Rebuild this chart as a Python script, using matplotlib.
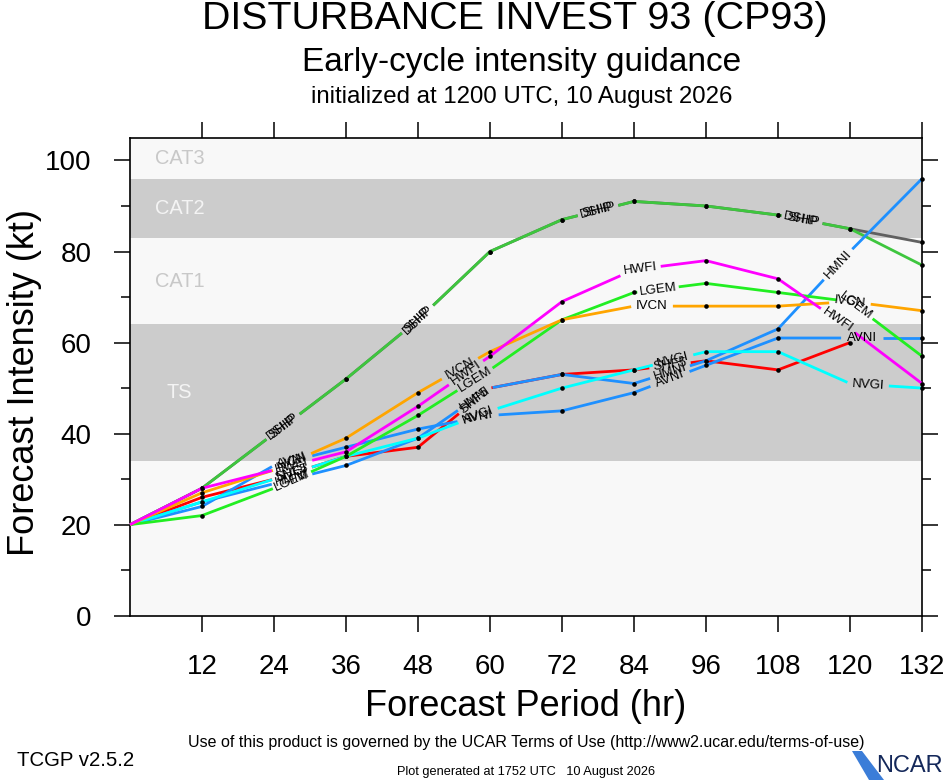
import numpy as np
import matplotlib
matplotlib.use("Agg")
import matplotlib.pyplot as plt
from matplotlib.patches import Polygon

plt.rcParams['font.family'] = ['Liberation Sans', 'DejaVu Sans']

# forecast hours and intensities (kt)
hours = [0, 12, 24, 36, 48, 60, 72, 84, 96, 108, 120, 132]

ship = [20, 28, 40, 52, 65, 80, 87, 91, 90, 88, 85, 82]
dshp = [20, 28, 40, 52, 65, 80, 87, 91, 90, 88, 85, 77]
shf5 = [20, 26, 30, 35, 37, 50, 53, 54, 56, 54, 60]
hmni = [20, 25, 29, 33, 39, 50, 53, 51, 56, 63, 80, 96]
avni = [20, 24, 33, 37, 41, 44, 45, 49, 55, 61, 61, 61]
nvgi = [20, 25, 30, 35, 39, 45, 50, 54, 58, 58, 51, 50]
lgem = [20, 22, 28, 35, 44, 54, 65, 71, 73, 71, 69, 57]
ivcn = [20, 27, 32, 39, 49, 58, 65, 68, 68, 68, 69, 67]
hwfi = [20, 28, 32, 36, 46, 57, 69, 76, 78, 74, 63, 51]

# hour at which each model name is written on its line
ship_lab = [25.5, 48, 78, 112]
shf5_lab = [27, 57.5, 90]
hmni_lab = [27, 57.5, 90, 118]
avni_lab = [27, 58, 90, 122]
nvgi_lab = [27, 58, 90.5, 123]
lgem_lab = [27, 57.5, 88, 121]
ivcn_lab = [27, 55, 87, 120]
hwfi_lab = [27, 56, 85, 118]

# intensity category bands
cat_names = ['CAT3', 'CAT2', 'CAT1', 'TS']
cat_mid = [100.5, 89.5, 73.5, 49]
cat_col = ['#c8c8c8', '#f4f4f4', '#c8c8c8', '#f4f4f4']
gray_lo = [34, 83]
gray_hi = [64, 96]

W, H = 946, 780
fig = plt.figure(figsize=(W / 100, H / 100), dpi=100)
ax = fig.add_axes([130 / W, 164.3 / H, 792 / W, 478 / H])
ax.set_xlim(0, 132)
ax.set_ylim(0, 105)
ax.set_facecolor('#f8f8f8')
for lo, hi in zip(gray_lo, gray_hi):
    ax.axhspan(lo, hi, color='#cccccc', lw=0, zorder=0)
for nm, ym, c in zip(cat_names, cat_mid, cat_col):
    ax.text(8.25, ym, nm, color=c, fontsize=14.4, ha='center', va='center', zorder=1)

ax.set_xticks(hours[1:])
ax.set_yticks(range(0, 101, 20))
ax.set_yticks(range(10, 100, 20), minor=True)
ax.tick_params(which='major', direction='out', length=11.5, width=1.1,
               labelsize=20, top=True, right=True, pad=16)
ax.tick_params(which='minor', direction='out', length=6.8, width=1.1,
               left=True, right=True)
for sp in ax.spines.values():
    sp.set_linewidth(1.2)

fs_lab = 9.5
inv = ax.transData.inverted()


def draw_model(vals, name, color, lab_hours, z):
    x = hours[:len(vals)]
    pts = ax.transData.transform(np.column_stack([x, vals]))
    seg = np.hypot(np.diff(pts[:, 0]), np.diff(pts[:, 1]))
    s = np.concatenate([[0], np.cumsum(seg)])
    half = 0.32 * len(name) * fs_lab * 100 / 72 + 4
    gaps = []
    for h in lab_hours:
        i = min(int(h // 12), len(x) - 2)
        t = (h - x[i]) / (x[i + 1] - x[i])
        sc = s[i] + t * seg[i]
        c = pts[i] + t * (pts[i + 1] - pts[i])
        ang = np.degrees(np.arctan2(pts[i + 1, 1] - pts[i, 1],
                                    pts[i + 1, 0] - pts[i, 0]))
        gaps.append((sc - half, sc + half))
        tx, ty = inv.transform(c)
        ax.text(tx, ty, name, rotation=ang, rotation_mode='anchor',
                ha='center', va='center', fontsize=fs_lab, zorder=20)
    gaps.sort()
    vis = []
    start = 0.0
    for a, b in gaps:
        if a > start:
            vis.append((start, a))
        start = max(start, b)
    if start < s[-1]:
        vis.append((start, s[-1]))
    for a, b in vis:
        ss = [a] + [v for v in s if a < v < b] + [b]
        px = np.interp(ss, s, pts[:, 0])
        py = np.interp(ss, s, pts[:, 1])
        d = inv.transform(np.column_stack([px, py]))
        ax.plot(d[:, 0], d[:, 1], color=color, lw=2.0,
                solid_capstyle='butt', zorder=z, clip_on=False)
    for k in range(1, len(x)):
        if not any(a <= s[k] <= b for a, b in gaps):
            ax.plot(x[k], vals[k], 'o', color='k', ms=3.3, mew=0,
                    zorder=z + 0.5, clip_on=False)


draw_model(ship, 'SHIP', '#606060', ship_lab, 3)
draw_model(dshp, 'DSHP', '#3ec63e', ship_lab, 4)
draw_model(shf5, 'SHF5', '#ff0000', shf5_lab, 5)
draw_model(hmni, 'HMNI', '#1e90ff', hmni_lab, 6)
draw_model(avni, 'AVNI', '#1e90ff', avni_lab, 7)
draw_model(nvgi, 'NVGI', '#00ffff', nvgi_lab, 8)
draw_model(lgem, 'LGEM', '#22ee22', lgem_lab, 9)
draw_model(ivcn, 'IVCN', '#ffa500', ivcn_lab, 10)
draw_model(hwfi, 'HWFI', '#ff00ff', hwfi_lab, 11)

# titles and axis labels
fig.text(515 / W, 1 - 19 / H, 'DISTURBANCE INVEST 93 (CP93)', fontsize=28.4,
         ha='center', va='center')
fig.text(522 / W, 1 - 62 / H, 'Early-cycle intensity guidance', fontsize=24,
         ha='center', va='center')
fig.text(522 / W, 1 - 97 / H, 'initialized at 1200 UTC, 10 August 2026',
         fontsize=17.3, ha='center', va='center')
fig.text(25 / W, 1 - 382 / H, 'Forecast Intensity (kt)', fontsize=26,
         rotation=90, ha='center', va='center')
fig.text(526 / W, 1 - 706 / H, 'Forecast Period (hr)', fontsize=26,
         ha='center', va='center')

fig.text(526 / W, 1 - 742 / H,
         'Use of this product is governed by the UCAR Terms of Use '
         '(http://www2.ucar.edu/terms-of-use)', fontsize=11.5,
         ha='center', va='center')
fig.text(17 / W, 1 - 760 / H, 'TCGP v2.5.2', fontsize=14.7,
         ha='left', va='center')
fig.text(526 / W, 1 - 772 / H, 'Plot generated at 1752 UTC   10 August 2026',
         fontsize=9.2, ha='center', va='center')

# NCAR logo
swoosh = [(852, 751), (862, 751), (884, 780), (869, 780)]
fig.add_artist(Polygon([(px / W, 1 - py / H) for px, py in swoosh],
                       closed=True, transform=fig.transFigure,
                       color='#3b7dd8', lw=0))
fig.text(943 / W, 1 - 766 / H, 'NCAR', fontsize=17, color='#14285a',
         ha='right', va='center')

fig.savefig('out.png', dpi=100)
